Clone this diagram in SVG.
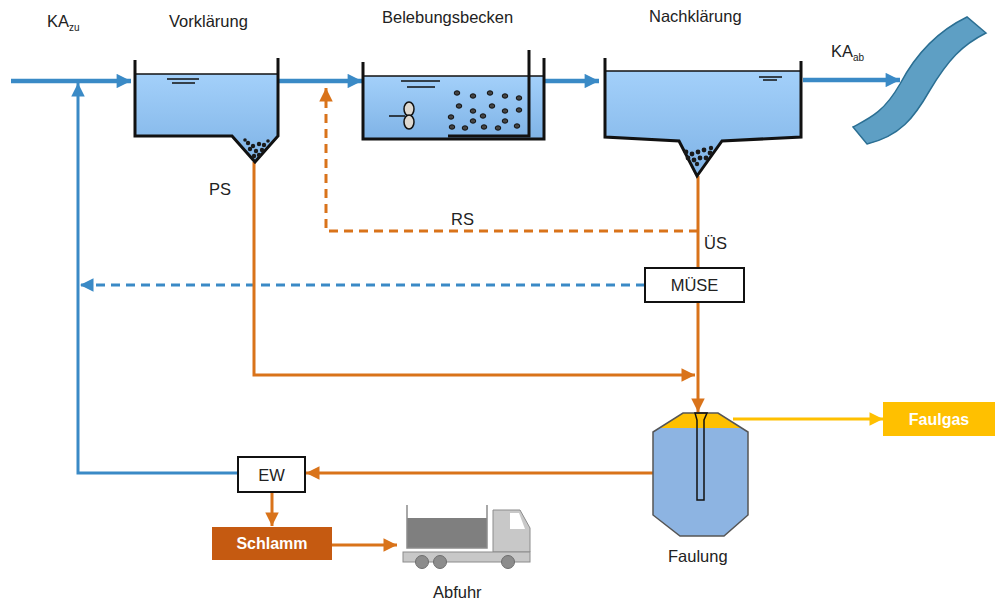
<svg xmlns="http://www.w3.org/2000/svg" width="995" height="602" viewBox="0 0 995 602">
  <defs>
    <linearGradient id="water" x1="0" y1="0" x2="0" y2="1">
      <stop offset="0" stop-color="#a3d0fa"/>
      <stop offset="1" stop-color="#7fb3e6"/>
    </linearGradient>
    <marker id="ahBlue" viewBox="0 0 10 10" refX="10" refY="5" markerWidth="4" markerHeight="3.2" orient="auto" markerUnits="strokeWidth">
      <path d="M0,0 L10,5 L0,10 Z" fill="#3a8ac6"/>
    </marker>
    <marker id="ahBlueS" viewBox="0 0 10 10" refX="10" refY="5" markerWidth="5" markerHeight="4.5" orient="auto" markerUnits="strokeWidth">
      <path d="M0,0 L10,5 L0,10 Z" fill="#3a8ac6"/>
    </marker>
    <marker id="ahOrange" viewBox="0 0 10 10" refX="10" refY="5" markerWidth="5" markerHeight="4.5" orient="auto" markerUnits="strokeWidth">
      <path d="M0,0 L10,5 L0,10 Z" fill="#d9731a"/>
    </marker>
    <marker id="ahYellow" viewBox="0 0 10 10" refX="10" refY="5" markerWidth="5" markerHeight="4.5" orient="auto" markerUnits="strokeWidth">
      <path d="M0,0 L10,5 L0,10 Z" fill="#ffc000"/>
    </marker>
  </defs>
  <style>
    text { font-family: "Liberation Sans", Arial, sans-serif; fill: #222; }
    .lbl { font-size: 16.5px; }
    .sub { font-size: 10px; }
    .wbold { font-size: 16px; font-weight: bold; fill: #ffffff; }
    .wall { fill: none; stroke: #111; stroke-width: 3; stroke-linejoin: miter; }
    .lvl { stroke: #111; stroke-width: 1.5; }
    .flowBlue { fill: none; stroke: #3a8ac6; stroke-width: 4.5; }
    .lineBlue { fill: none; stroke: #3a8ac6; stroke-width: 3; }
    .dashBlue { fill: none; stroke: #3a8ac6; stroke-width: 3; stroke-dasharray: 9 6; }
    .lineOrange { fill: none; stroke: #d9731a; stroke-width: 3; }
    .dashOrange { fill: none; stroke: #d9731a; stroke-width: 3; stroke-dasharray: 9 6; }
    .lineYellow { fill: none; stroke: #ffc000; stroke-width: 3; }
    .box { fill: #ffffff; stroke: #111; stroke-width: 2; }
    .floc { fill: #444; stroke: #111; stroke-width: 1; }
    .sed { fill: #1a1a1a; }
  </style>

  <!-- connectors -->
  <g id="connectors">
    <!-- main water path -->
    <line class="flowBlue" x1="11" y1="81" x2="131" y2="81" marker-end="url(#ahBlue)"/>
    <line class="flowBlue" x1="279" y1="81" x2="362" y2="81" marker-end="url(#ahBlue)"/>
    <line class="flowBlue" x1="545" y1="81" x2="599" y2="81" marker-end="url(#ahBlue)"/>
    <line class="flowBlue" x1="803" y1="80" x2="900" y2="80" marker-end="url(#ahBlue)"/>
    <!-- return from EW to inlet -->
    <polyline class="lineBlue" points="238,473 78,473 78,83" marker-end="url(#ahBlueS)"/>
    <!-- MÜSE filtrate -->
    <line class="dashBlue" x1="645" y1="285" x2="80" y2="285" marker-end="url(#ahBlueS)"/>
    <!-- primary sludge -->
    <polyline class="lineOrange" points="254,162 254,375 695,375" marker-end="url(#ahOrange)"/>
    <!-- return sludge -->
    <polyline class="dashOrange" points="698,231 326,231 326,88" marker-end="url(#ahOrange)"/>
    <!-- excess sludge to digester -->
    <line class="lineOrange" x1="698" y1="176" x2="698" y2="268"/>
    <line class="lineOrange" x1="698" y1="302" x2="698" y2="412" marker-end="url(#ahOrange)"/>
    <!-- digested sludge to EW -->
    <line class="lineOrange" x1="653" y1="473" x2="306" y2="473" marker-end="url(#ahOrange)"/>
    <line class="lineOrange" x1="272" y1="492" x2="272" y2="526" marker-end="url(#ahOrange)"/>
    <line class="lineOrange" x1="332" y1="545" x2="397" y2="545" marker-end="url(#ahOrange)"/>
    <!-- digester gas -->
    <line class="lineYellow" x1="733" y1="419" x2="883" y2="419" marker-end="url(#ahYellow)"/>
  </g>

  <!-- inlet label -->
  <g id="ka-zu">
    <text class="lbl" x="47" y="27">KA<tspan class="sub" dy="4">zu</tspan></text>
  </g>

  <!-- primary clarifier -->
  <g id="vorklaerung">
    <text class="lbl" x="169" y="27">Vorklärung</text>
    <path d="M135,74 L278,74 L278,136 L255,162 L232,136 L135,136 Z" fill="url(#water)"/>
    <path class="wall" d="M135,60 L135,136 L232,136 L255,162 L278,136 L278,58"/>
    <line class="lvl" x1="135" y1="74" x2="278" y2="74"/>
    <line class="lvl" x1="167" y1="79" x2="199" y2="79"/>
    <line class="lvl" x1="172" y1="83" x2="195" y2="83"/>
    <g class="sed">
      <circle cx="248" cy="143" r="2.2"/><circle cx="253" cy="146" r="2.2"/><circle cx="259" cy="144" r="2.2"/>
      <circle cx="264" cy="145" r="2.2"/><circle cx="250" cy="149" r="2.2"/><circle cx="256" cy="151" r="2.2"/>
      <circle cx="262" cy="150" r="2.2"/><circle cx="254" cy="156" r="2.2"/><circle cx="259" cy="155" r="2.2"/>
      <circle cx="245" cy="140" r="1.8"/><circle cx="268" cy="141" r="1.8"/>
    </g>
    <text class="lbl" x="209" y="195">PS</text>
  </g>

  <!-- aeration tank -->
  <g id="belebungsbecken">
    <text class="lbl" x="382" y="23">Belebungsbecken</text>
    <rect x="363" y="76" width="181" height="63" fill="url(#water)"/>
    <path class="wall" d="M363,62 L363,139 L544,139 L544,58"/>
    <line class="lvl" x1="363" y1="76" x2="544" y2="76"/>
    <path class="wall" d="M529,50 L529,136 L448,136"/>
    <line class="lvl" x1="401" y1="81" x2="440" y2="81" stroke-width="2"/>
    <line class="lvl" x1="407" y1="87" x2="435" y2="87" stroke-width="2"/>
    <!-- mixer -->
    <line x1="389" y1="116" x2="405" y2="116" stroke="#111" stroke-width="1.5"/>
    <ellipse cx="409" cy="109" rx="5" ry="7" fill="#ddd8d0" stroke="#111" stroke-width="1.5"/>
    <ellipse cx="409" cy="122" rx="5" ry="7" fill="#ddd8d0" stroke="#111" stroke-width="1.5"/>
    <!-- activated sludge flocs -->
    <g class="floc">
      <ellipse cx="457" cy="93" rx="2.8" ry="2.2"/><ellipse cx="473" cy="96" rx="2.8" ry="2.2"/>
      <ellipse cx="490" cy="93" rx="2.8" ry="2.2"/><ellipse cx="505" cy="96" rx="2.8" ry="2.2"/>
      <ellipse cx="519" cy="98" rx="2.8" ry="2.2"/><ellipse cx="459" cy="106" rx="2.8" ry="2.2"/>
      <ellipse cx="473" cy="111" rx="2.8" ry="2.2"/><ellipse cx="492" cy="106" rx="2.8" ry="2.2"/>
      <ellipse cx="505" cy="111" rx="2.8" ry="2.2"/><ellipse cx="519" cy="110" rx="2.8" ry="2.2"/>
      <ellipse cx="451" cy="117" rx="2.8" ry="2.2"/><ellipse cx="483" cy="116" rx="2.8" ry="2.2"/>
      <ellipse cx="473" cy="121" rx="2.8" ry="2.2"/><ellipse cx="505" cy="121" rx="2.8" ry="2.2"/>
      <ellipse cx="452" cy="127" rx="2.8" ry="2.2"/><ellipse cx="465" cy="128" rx="2.8" ry="2.2"/>
      <ellipse cx="484" cy="127" rx="2.8" ry="2.2"/><ellipse cx="498" cy="128" rx="2.8" ry="2.2"/>
      <ellipse cx="517" cy="126" rx="2.8" ry="2.2"/>
    </g>
    <text class="lbl" x="451" y="225">RS</text>
  </g>

  <!-- secondary clarifier -->
  <g id="nachklaerung">
    <text class="lbl" x="649" y="22">Nachklärung</text>
    <path d="M605,71 L801,71 L801,137 L722,141 L697,176 L679,141 L605,137 Z" fill="url(#water)"/>
    <path class="wall" d="M605,58 L605,137 L679,141 L697,176 L722,141 L801,137 L801,61" stroke-width="2.5"/>
    <line class="lvl" x1="605" y1="71" x2="801" y2="71"/>
    <line class="lvl" x1="759" y1="77" x2="782" y2="77"/>
    <line class="lvl" x1="763" y1="80" x2="777" y2="80"/>
    <g class="sed">
      <circle cx="686" cy="152" r="2.4"/><circle cx="692" cy="154" r="2.4"/><circle cx="698" cy="152" r="2.4"/>
      <circle cx="704" cy="150" r="2.4"/><circle cx="710" cy="153" r="2.4"/><circle cx="688" cy="158" r="2.4"/>
      <circle cx="694" cy="160" r="2.4"/><circle cx="700" cy="158" r="2.4"/><circle cx="706" cy="158" r="2.4"/>
      <circle cx="711" cy="148" r="2.2"/><circle cx="697" cy="164" r="2.2"/>
    </g>
    <text class="lbl" x="704" y="249">ÜS</text>
  </g>

  <!-- outlet and receiving water -->
  <g id="ka-ab">
    <text class="lbl" x="831" y="57">KA<tspan class="sub" dy="4">ab</tspan></text>
  </g>
  <g id="gewaesser">
    <path d="M853,127 C870,118 884,112 900,84 C918,50 940,30 967,17 L986,33 C962,45 948,60 930,90 C914,118 900,136 867,144 Z" fill="#5e9fc4" stroke="#2b6f93" stroke-width="1.5"/>
  </g>

  <!-- mechanical excess sludge thickening -->
  <g id="muese">
    <rect class="box" x="645" y="268" width="99" height="34"/>
    <text class="lbl" x="694.5" y="291" text-anchor="middle">MÜSE</text>
  </g>

  <!-- digester -->
  <g id="faulung">
    <polygon points="683,413 718,413 748,432 748,515 724,536 680,536 653,515 653,432" fill="#8db4e2"/>
    <polygon points="683,413 718,413 741,428 660,428" fill="#ffc000"/>
    <polygon points="683,413 718,413 748,432 748,515 724,536 680,536 653,515 653,432" fill="none" stroke="#555" stroke-width="1.5"/>
    <path d="M695,413 L707,413 L704,420 L704,500 L697,500 L697,420 Z" fill="none" stroke="#111" stroke-width="1.5"/>
    <text class="lbl" x="668" y="562">Faulung</text>
  </g>

  <!-- digester gas -->
  <g id="faulgas">
    <rect x="883" y="402" width="112" height="34" fill="#ffc000"/>
    <text class="wbold" x="939" y="425" text-anchor="middle">Faulgas</text>
  </g>

  <!-- dewatering -->
  <g id="ew">
    <rect class="box" x="238" y="457" width="67" height="35"/>
    <text class="lbl" x="271.5" y="481" text-anchor="middle">EW</text>
  </g>

  <!-- dewatered sludge -->
  <g id="schlamm">
    <rect x="212" y="527" width="120" height="33" fill="#c55a11"/>
    <text class="wbold" x="272" y="549" text-anchor="middle">Schlamm</text>
  </g>

  <!-- disposal truck -->
  <g id="abfuhr">
    <rect x="407" y="518" width="80" height="30" fill="#7f7f7f"/>
    <path d="M407,505 L407,548 L487,548 L487,505" fill="none" stroke="#8c8c8c" stroke-width="1.5"/>
    <path d="M493,510 L520,510 L530,528 L530,552 L493,552 Z" fill="#c8c8c8" stroke="#8c8c8c" stroke-width="1"/>
    <path d="M510,513 L519,513 L525,529 L510,529 Z" fill="#ffffff"/>
    <rect x="403" y="552" width="127" height="10" fill="#c8c8c8" stroke="#8c8c8c" stroke-width="1"/>
    <circle cx="422" cy="562" r="6.5" fill="#8c8c8c" stroke="#6e6e6e" stroke-width="1"/>
    <circle cx="440" cy="562" r="6.5" fill="#8c8c8c" stroke="#6e6e6e" stroke-width="1"/>
    <circle cx="508" cy="562" r="6.5" fill="#8c8c8c" stroke="#6e6e6e" stroke-width="1"/>
    <text class="lbl" x="433" y="598">Abfuhr</text>
  </g>
</svg>
